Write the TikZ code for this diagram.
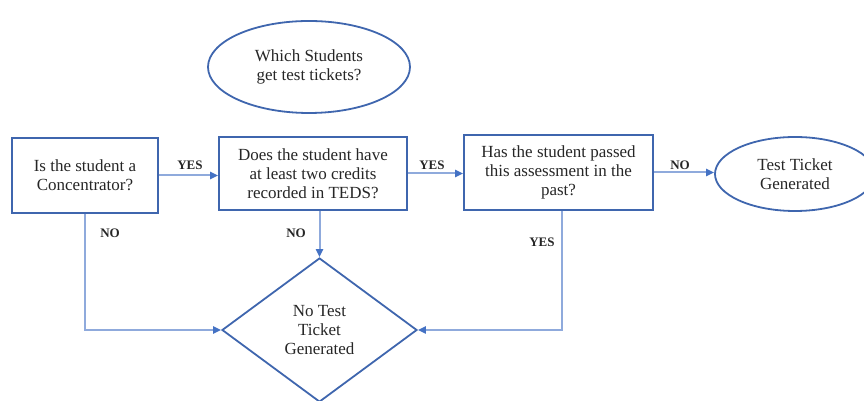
\documentclass[tikz,border=0pt]{standalone}
\usepackage{fontspec}
\setmainfont{Liberation Serif}
\usetikzlibrary{arrows.meta,shapes.geometric}
\definecolor{flowedge}{HTML}{3F66AE}
\definecolor{flowline}{HTML}{8FAADC}
\definecolor{flowtip}{HTML}{4472C4}

\begin{document}
\begin{tikzpicture}[x=1pt,y=1pt,
    qbox/.style={draw=flowedge,line width=1.8pt,rectangle,align=center,inner sep=0pt,
      font=\fontsize{17}{19}\selectfont,text=black!85},
    oval/.style={draw=flowedge,line width=1.8pt,ellipse,align=center,inner sep=0pt,
      font=\fontsize{17}{19}\selectfont,text=black!85},
    verdict/.style={draw=flowedge,line width=1.8pt,diamond,align=center,inner sep=0pt,
      font=\fontsize{17}{19}\selectfont,text=black!85},
    link/.style={draw=flowline,line width=2pt,
      -{Triangle[length=8pt,width=7pt,color=flowtip]}},
    tag/.style={font=\fontsize{13}{15}\selectfont\bfseries,text=black!85}]

        \useasboundingbox (0,0) rectangle (864,401);

        % question boxes and end points
        \node[oval,minimum width=202,minimum height=92] (start) at (309,334)
          {Which Students\\get test tickets?};
        \node[qbox,minimum width=146,minimum height=75] (q1) at (85,225.5)
          {Is the student a\\Concentrator?};
        \node[qbox,minimum width=188,minimum height=73] (q2) at (313,227.5)
          {Does the student have\\at least two credits\\recorded in TEDS?};
        \node[qbox,minimum width=189,minimum height=75] (q3) at (558.5,228.5)
          {Has the student passed\\this assessment in the\\past?};
        \node[oval,minimum width=160,minimum height=74] (ticket) at (795,227)
          {Test Ticket\\Generated};
        \node[verdict,minimum width=195,minimum height=144] (noticket) at (319.5,71)
          {No Test\\Ticket\\Generated};

        % connectors
        \draw[link] (q1.east) -- (q1.east -| q2.west);
        \draw[link] (q2.east) -- (q2.east -| q3.west);
        \draw[link] (q3.east) -- (q3.east -| ticket.west);
        \draw[link] (q1.south) |- (noticket.west);
        \draw[link] (q2.south -| noticket.north) -- (noticket.north);
        \draw[link] ([xshift=3]q3.south) |- (noticket.east);

        \node[tag] (yes1) at (190,236) {YES};
        \node[tag] (yes2) at (432,236) {YES};
        \node[tag] (no3) at (680,236) {NO};
        \node[tag] (no1) at (110,168) {NO};
        \node[tag] (no2) at (296,168) {NO};
        \node[tag] (yes3) at (542,159) {YES};
      \end{tikzpicture}
\end{document}
